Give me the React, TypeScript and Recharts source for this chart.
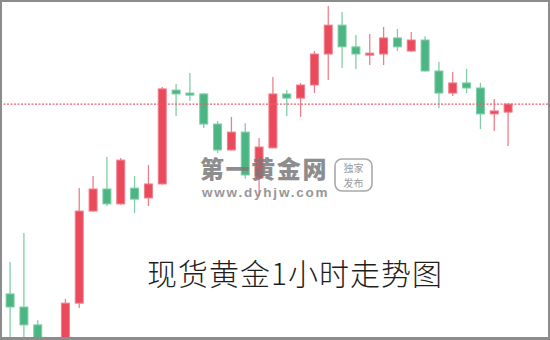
import React from "react";
import {
  ComposedChart,
  Bar,
  XAxis,
  YAxis,
  CartesianGrid,
  ReferenceLine,
} from "recharts";

// hourly slots (slot 3 has no candle in view)
const slots = [
  0, 1, 2, 4, 5, 6, 7, 8, 9, 10, 11, 12, 13, 14, 15, 16, 17, 18, 19, 20, 21,
  22, 23, 24, 25, 26, 27, 28, 29, 30, 31, 32, 33, 34, 35, 36,
];
const opens = [
  1287.01, 1286.57, 1285.97, 1285.3, 1286.7, 1289.79, 1290.53, 1290.03,
  1290.56, 1290.23, 1290.7, 1293.85, 1293.75, 1293.72, 1292.71, 1291.84,
  1292.44, 1290.9, 1291.91, 1293.72, 1293.58, 1294.02, 1295.06, 1296.03,
  1295.3, 1295.06, 1295.06, 1295.6, 1295.16, 1295.53, 1294.49, 1293.75,
  1294.09, 1293.92, 1293.05, 1293.11,
];
const highs = [
  1288.08, 1289.05, 1286.13, 1286.84, 1290.56, 1290.97, 1291.6, 1291.57,
  1290.97, 1291.34, 1293.95, 1294.05, 1294.42, 1293.75, 1292.81, 1292.95,
  1292.74, 1292.24, 1294.29, 1293.85, 1294.09, 1295.16, 1296.67, 1296.47,
  1295.7, 1295.73, 1295.97, 1295.9, 1295.8, 1295.66, 1294.79, 1294.46,
  1294.56, 1294.09, 1293.55, 1293.4,
];
const lows = [
  1285.3, 1285.2, 1285.1, 1285.2, 1286.54, 1289.77, 1289.96, 1290.0, 1289.72,
  1289.96, 1290.68, 1292.98, 1293.48, 1292.58, 1291.74, 1291.82, 1290.87,
  1290.3, 1291.9, 1292.98, 1292.95, 1293.75, 1294.19, 1294.59, 1294.56,
  1294.69, 1294.69, 1295.16, 1295.13, 1294.47, 1293.25, 1293.65, 1293.75,
  1292.54, 1292.48, 1291.97,
];
const closes = [
  1286.57, 1285.97, 1285.3, 1286.7, 1289.79, 1290.53, 1290.03, 1291.5,
  1290.19, 1290.7, 1293.89, 1293.72, 1293.68, 1292.71, 1291.84, 1292.44,
  1291.0, 1291.94, 1293.72, 1293.58, 1294.02, 1295.06, 1296.03, 1295.3,
  1295.06, 1295.09, 1295.6, 1295.3, 1295.53, 1294.49, 1293.75, 1294.09,
  1293.92, 1293.05, 1293.15, 1293.38,
];

const gridSlots = [2, 9, 19, 25, 33];
const priceTicks = [
  1286, 1287, 1288, 1289, 1290, 1291, 1292, 1293, 1294, 1295, 1296,
];

const data = slots.map((slot, k) => ({
  slot,
  open: opens[k],
  high: highs[k],
  low: lows[k],
  close: closes[k],
}));

const lastPrice = closes[closes.length - 1];

const RED = "#ea4a5b";
const RED_EDGE = "#f07f8b";
const GREEN = "#4bb683";
const GREEN_EDGE = "#80cda7";

const Candle = (props: any) => {
  const { x, y, width, height, payload } = props;
  if (payload == null || height == null) return null;
  const { open, close, high, low } = payload;
  const up = close >= open;
  const perUnit = height / (high - low || 1);
  const yOpen = y + (high - open) * perUnit;
  const yClose = y + (high - close) * perUnit;
  const top = Math.min(yOpen, yClose);
  const bodyH = Math.max(Math.abs(yOpen - yClose), 2);
  const cx = x + width / 2;
  return (
    <g>
      <line
        x1={cx}
        x2={cx}
        y1={y}
        y2={y + height}
        stroke={up ? RED_EDGE : GREEN_EDGE}
        strokeWidth={1.3}
      />
      <rect
        x={cx - 4}
        y={top}
        width={8}
        height={bodyH}
        fill={up ? RED : GREEN}
        stroke={up ? RED_EDGE : GREEN_EDGE}
        strokeWidth={1}
      />
    </g>
  );
};

export default function App() {
  return (
    <div
      style={{
        position: "fixed",
        left: 0,
        top: 0,
        width: 550,
        height: 340,
        background: "#fff",
      }}
    >
      <ComposedChart
        width={550}
        height={340}
        data={data}
        margin={{ top: 0, right: 0, bottom: 0, left: 0 }}
      >
        <CartesianGrid stroke="#e3ebf2" strokeWidth={1.6} />
        <XAxis
          type="number"
          dataKey="slot"
          domain={[-0.759, 39.0]}
          ticks={gridSlots}
          height={0}
          tick={false}
          axisLine={false}
          tickLine={false}
          allowDataOverflow
        />
        <YAxis
          type="number"
          domain={[1285.4631, 1296.8725]}
          ticks={priceTicks}
          width={0}
          tick={false}
          axisLine={false}
          tickLine={false}
          allowDataOverflow
        />
        <ReferenceLine
          y={lastPrice}
          stroke="#e9606e"
          strokeWidth={1.4}
          strokeDasharray="2 1.5"
        />
        <Bar
          dataKey={(d: any) => [d.low, d.high]}
          barSize={9}
          shape={<Candle />}
          isAnimationActive={false}
        />
      </ComposedChart>

      <svg
        width={550}
        height={340}
        style={{ position: "absolute", left: 0, top: 0, pointerEvents: "none" }}
      >
        {/* site watermark */}
        <g opacity={0.85}>
          <text
            x={200}
            y={177.5}
            fontFamily="Noto Sans CJK SC"
            fontWeight={900}
            fontSize={24}
            fill="#7a7a7a"
            style={{ letterSpacing: 1.6 }}
          >
            第一黄金网
          </text>
          <text
            x={202}
            y={197}
            fontFamily="Liberation Sans, Arial, sans-serif"
            fontWeight={700}
            fontSize={13.5}
            fill="#858585"
            style={{ letterSpacing: 1.8 }}
          >
            www.dyhjw.com
          </text>
          <rect
            x={335}
            y={159}
            width={37}
            height={32}
            rx={7}
            fill="none"
            stroke="#9a9a9a"
            strokeWidth={1.6}
          />
          <text
            x={353.5}
            y={172}
            textAnchor="middle"
            fontFamily="Noto Sans CJK SC"
            fontSize={10}
            fill="#8a8a8a"
          >
            独家
          </text>
          <text
            x={353.5}
            y={187}
            textAnchor="middle"
            fontFamily="Noto Sans CJK SC"
            fontSize={10}
            fill="#8a8a8a"
          >
            发布
          </text>
        </g>
        <text
          x={147}
          y={285}
          fontFamily="Noto Sans CJK SC"
          fontWeight={300}
          fontSize={30}
          fill="#1e1e1e"
          style={{ letterSpacing: 1 }}
        >
          现货黄金1小时走势图
        </text>
      </svg>

      <div
        style={{
          position: "absolute",
          left: 0,
          top: 0,
          width: 550,
          height: 340,
          boxSizing: "border-box",
          borderStyle: "solid",
          borderColor: "#8c8c8c",
          borderWidth: "2px 2px 3px 2px",
          pointerEvents: "none",
        }}
      />
    </div>
  );
}
